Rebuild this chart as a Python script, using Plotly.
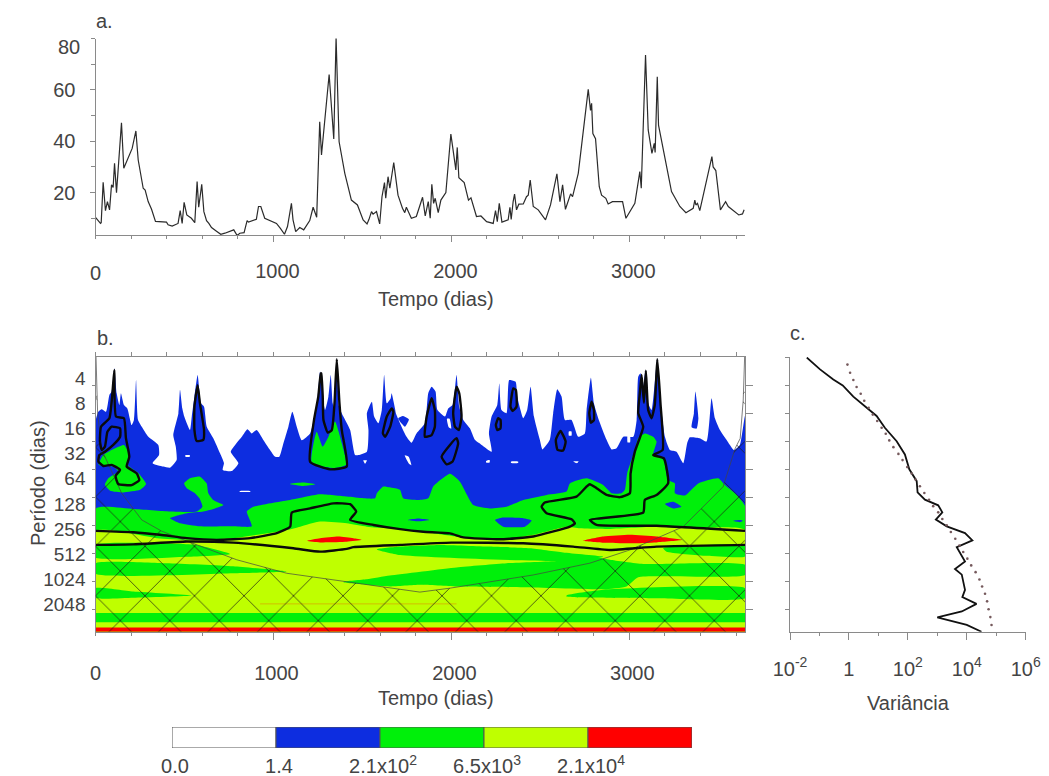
import plotly.graph_objects as go

W, H = 1049, 776
FONT = "Liberation Sans"
TXT = "#444444"
AX = "#8a8a8a"
BLUE, GREEN, YELLOW, RED = "#0d2de0", "#00f00a", "#bfff00", "#ff0000"

# ---- panel a: time series (day, value)
series_days = [0,11,28,32,43,56,67,79,90,99,107,118,146,159,206,227,240,268,279,296,315,337,399,408,431,464,476,487,498,513,539,558,571,580,597,609,624,637,652,680,704,727,764,777,796,811,835,852,860,904,916,929,951,1017,1039,1062,1079,1101,1110,1125,1148,1170,1204,1223,1243,1260,1270,1313,1339,1352,1369,1401,1438,1472,1504,1526,1537,1551,1560,1579,1597,1610,1624,1631,1644,1654,1676,1700,1725,1738,1747,1775,1803,1823,1838,1853,1870,1881,1890,1900,1909,1926,1941,1969,1997,2020,2025,2033,2042,2072,2096,2110,2141,2166,2198,2235,2248,2258,2269,2284,2319,2329,2336,2347,2355,2366,2379,2404,2422,2432,2443,2460,2488,2529,2557,2593,2610,2625,2641,2670,2681,2713,2769,2782,2788,2795,2810,2831,2844,2868,2881,2905,2962,2981,3031,3059,3067,3091,3106,3127,3140,3145,3157,3164,3190,3237,3284,3318,3359,3368,3374,3383,3396,3464,3471,3486,3512,3541,3556,3615,3636,3645]
series_vals = [10.4,9.4,8,8.3,24,13,16.5,13.3,23,22,31.4,20,47.2,29.5,37.2,44,32.7,21.7,21,16.5,13.5,8.8,8.5,7.5,7,8,13,8,16.2,11.3,10,8.3,24.3,14.3,23.2,12.6,9.1,8,6.4,5,3.8,4.2,5.2,5.5,3.3,4.2,4.4,9.1,8.5,9.6,14.6,14.6,10,8,6.1,3.8,6.8,15.8,9.4,4.8,6.4,5.5,9.1,14.3,10.4,47.6,34.7,66,40.9,80.4,39.8,27.5,17.1,15.2,9.4,7.8,9.6,12.6,11.6,12.6,7.8,18.4,23.9,17.8,26.2,21.7,31.7,19,13.9,12.2,14.3,10,10.7,15.2,18.2,10.9,16.5,10,23.2,15.8,17.8,12.2,17.1,20,42.8,31.4,28.8,37.6,25.8,23.9,17.1,18,10.7,10.9,8.7,8,13,8.7,15.8,8.5,9.4,14.3,9.6,16.5,19.4,13.3,15.5,15.6,18.4,19,24.9,14.6,13.3,9.4,15.2,27.3,16.5,23,13.5,19.5,18.4,27.5,60.2,52,54.8,43,41,22.3,19,17.8,15.6,16.5,16.5,10,15.8,28.2,21.7,73.6,44.4,35.3,39.2,35.6,65.1,46.3,37.2,20.4,14.6,12.2,13.9,17.1,15.2,15.8,13,34,30,28.6,13.3,16.5,14.6,11.3,11.7,13.3]

# ---- panel b: wavelet power regions as (day, log2 period)
blue_region = [(0,3.3),(16,2.95),(35,2.86),(59,2.95),(78,2.35),(91,2.23),(106,1.4),(119,2.29),(134,2.71),(143,2.29),(160,2.71),(179,2.83),(203,3.42),(216,3.24),(228,1.82),(239,3.24),(260,3.48),(297,3.84),(353,4.13),(357,4.49),(321,4.78),(381,4.9),(419,4.94),(456,4.67),(451,4.19),(437,3.78),(466,3.0),(475,2.17),(488,2.83),(499,3.12),(531,3.6),(541,3.12),(556,2.41),(574,1.64),(593,2.65),(610,2.77),(625,3.48),(662,3.89),(700,4.43),(722,4.78),(715,5.02),(766,5.06),(803,4.78),(760,4.37),(785,4.13),(822,3.84),(854,3.57),(878,3.72),(906,3.6),(944,3.96),(981,4.31),(1009,4.55),(1033,4.55),(1056,4.07),(1084,3.48),(1106,2.95),(1131,3.48),(1159,3.96),(1206,3.72),(1234,3.0),(1249,2.41),(1262,1.52),(1277,2.41),(1290,2.89),(1309,2.41),(1322,1.64),(1333,2.65),(1343,2.89),(1356,1.05),(1369,2.77),(1393,3.12),(1431,3.6),(1459,4.49),(1478,4.49),(1525,4.37),(1534,3.6),(1525,3.0),(1553,2.59),(1566,3.12),(1590,3.36),(1609,2.89),(1622,1.64),(1637,2.65),(1659,2.47),(1664,2.29),(1683,2.83),(1688,3.0),(1720,3.48),(1748,3.84),(1776,4.05),(1804,3.72),(1851,3.36),(1870,2.29),(1889,2.06),(1911,2.23),(1921,2.88),(1964,3.12),(1982,2.83),(2007,2.71),(2029,1.64),(2044,2.77),(2067,3.24),(2104,3.54),(2132,3.95),(2170,4.13),(2226,4.37),(2211,3.72),(2226,3.12),(2258,2.71),(2269,1.94),(2282,2.89),(2310,3.0),(2325,1.82),(2361,1.88),(2370,2.41),(2404,3.18),(2426,2.89),(2445,2.06),(2464,3.12),(2497,3.95),(2512,4.29),(2553,3.95),(2572,3.0),(2595,2.15),(2619,2.41),(2638,3.24),(2675,3.24),(2713,3.84),(2750,3.72),(2760,2.89),(2784,1.74),(2801,2.65),(2825,3.18),(2872,3.95),(2900,4.29),(2928,4.25),(2966,3.84),(3022,3.84),(3041,3.24),(3050,1.7),(3063,1.58),(3074,2.29),(3091,1.46),(3106,2.65),(3125,2.89),(3157,1.05),(3172,2.41),(3200,3.84),(3228,4.31),(3265,4.37),(3303,4.78),(3325,4.07),(3340,3.86),(3396,3.89),(3434,4.01),(3462,2.47),(3481,3.18),(3509,3.6),(3546,3.95),(3587,4.31),(3621,4.13),(3650,3.1),(3650,10.78),(0,10.78)]
blue_islands = [
    [(1701,3.18),(1729,3.1),(1761,3.22),(1739,3.48),(1711,3.3)],
    [(3350,3.5),(3363,3.0),(3371,2.23),(3388,3.18),(3378,3.55)],
]
white_specks = [
    [(1738,4.5),(1760,4.55),(1775,4.85),(1762,4.8)],
    [(1975,3.2),(1990,3.2),(1999,3.55),(1985,3.5)],
    [(2990,3.8),(3004,3.8),(3004,4.04),(2990,4.04)],
    [(2195,4.7),(2215,4.67),(2215,4.76),(2195,4.76)],
    [(2335,4.72),(2375,4.72),(2375,4.77),(2335,4.77)],
    [(2685,4.72),(2715,4.72),(2705,4.78)],
    [(2660,3.65),(2675,3.65),(2675,3.8),(2660,3.8)],
    [(505,4.5),(530,4.5),(530,4.55),(505,4.55)],
    [(810,5.77),(870,5.77),(870,5.8),(810,5.8)],
    [(1505,4.68),(1525,4.68),(1515,4.8)],
]
green_region = [(0,6.39),(213,6.41),(419,6.5),(569,6.5),(601,6.33),(584,6.03),(559,5.85),(513,5.67),(498,5.5),(531,5.32),(587,5.26),(625,5.5),(634,5.85),(662,6.09),(719,6.27),(672,6.39),(606,6.5),(513,6.56),(419,6.74),(475,6.92),(587,7.03),(775,7.03),(878,7.03),(859,6.68),(850,6.5),(887,6.33),(962,6.23),(1094,6.09),(1187,5.97),(1262,5.89),(1412,5.97),(1506,6.03),(1571,6.03),(1581,5.85),(1618,5.61),(1654,5.64),(1711,5.73),(1729,6.03),(1814,6.09),(1870,6.03),(1898,5.61),(1992,5.16),(2048,5.44),(2123,6.27),(2216,6.39),(2310,6.33),(2404,6.09),(2535,5.91),(2647,5.79),(2666,5.5),(2760,5.32),(2853,5.56),(2900,5.85),(2956,5.85),(2975,5.73),(2988,5.14),(3031,4.31),(3050,3.89),(3087,3.72),(3134,3.84),(3153,4.01),(3134,4.49),(3190,4.61),(3218,5.38),(3256,5.5),(3256,5.85),(3312,5.93),(3387,5.5),(3499,5.32),(3537,5.56),(3602,5.91),(3650,6.3),(3650,10.78),(0,10.78)]
green_islands = [
    [(18,4.84),(44,4.49),(110,4.25),(160,4.13),(190,4.49),(179,4.84),(241,5.14),(284,5.52),(250,5.73),(156,5.82),(82,5.76),(53,5.55),(72,5.32),(128,5.08),(100,4.9),(53,4.88)],
    [(1215,4.76),(1243,3.66),(1277,4.19),(1309,3.84),(1346,3.3),(1384,4.07),(1408,4.84),(1337,4.96)],
    [(1093,5.52),(1168,5.47),(1234,5.53),(1168,5.59)],
]
blue_holes = [
    [(2245,6.8),(2282,6.72),(2404,6.74),(2451,6.82),(2413,7.04),(2291,7.04)],
    [(3200,6.23),(3247,6.15),(3293,6.33),(3247,6.39)],
    [(1757,6.8),(1814,6.75),(1875,6.8),(1814,6.85)],
    [(3580,6.83),(3620,6.8),(3640,6.83),(3620,6.88)],
]
yellow_region = [(0,7.2),(345,7.45),(512,7.51),(775,7.45),(1075,7.16),(1150,7.04),(1262,6.86),(1412,6.92),(1525,7.04),(1654,7.1),(1842,7.22),(2029,7.39),(2273,7.51),(2460,7.33),(2647,7.04),(2722,7.1),(2872,7.12),(3153,7.04),(3340,7.1),(3650,7.16),(3650,10.78),(0,10.78)]
green_bands = [
    [(0,7.69),(344,7.63),(569,7.69),(756,8.01),(513,8.11),(0,8.14)],
    [(1581,7.85),(1712,7.75),(1935,7.69),(2216,7.75),(2441,7.81),(2628,7.96),(2853,8.11),(2600,8.26),(1712,8.05)],
    [(0,8.34),(400,8.34),(775,8.45),(1075,8.64),(775,8.7),(0,8.72)],
    [(0,9.23),(213,9.35),(541,9.49),(213,9.57),(0,9.57)],
    [(1393,9.0),(1525,8.91),(1654,8.78),(2029,8.49),(2310,8.34),(2600,8.26),(2816,8.13),(2891,8.22),(3078,8.37),(3650,8.4),(3650,8.76),(3050,8.84),(2984,9.17),(2853,9.27),(2404,9.2),(2029,9.17),(1823,9.11),(1654,9.17),(1525,9.11),(1393,9.02)],
    [(3190,7.81),(3650,7.73),(3650,8.1),(3434,8.08),(3209,7.93)],
    [(2647,9.49),(2853,9.29),(3650,9.23),(3650,9.59),(3153,9.59),(2647,9.53)],
]
green_strip = [(0,10.11),(3650,10.11),(3650,10.44),(0,10.44)]
red_regions = [
    [(1190,7.54),(1262,7.45),(1365,7.39),(1449,7.45),(1496,7.51),(1412,7.58),(1262,7.6)],
    [(2741,7.54),(2853,7.39),(3003,7.33),(3153,7.39),(3299,7.51),(3153,7.6),(3003,7.63),(2853,7.61)],
]
red_strip = [(0,10.63),(3650,10.63),(3650,10.78),(0,10.78)]
faint_line = [(925,9.79),(2029,9.79)]
contour_lower = [(0,7.69),(213,7.67),(513,7.57),(775,7.61),(1112,7.81),(1262,7.93),(1412,7.83),(1450,7.77),(1712,7.69),(2000,7.61),(2404,7.63),(2684,7.75),(2891,7.87),(3153,7.75),(3650,7.69)]
contour_upper = [(0,7.19),(213,7.24),(363,7.33),(513,7.45),(681,7.51),(869,7.45),(1019,7.27),(1094,7.04),(1103,6.54),(1206,6.39),(1337,6.21),(1431,6.24),(1465,6.5),(1431,6.8),(1562,6.98),(1712,7.13),(1842,7.22),(1992,7.28),(2067,7.42),(2273,7.49),(2460,7.39),(2666,7.04),(2694,6.92),(2675,6.78),(2535,6.56),(2507,6.33),(2525,6.18),(2703,5.97),(2760,5.61),(2778,5.53),(2816,5.67),(2872,5.91),(2947,5.99),(3003,5.85),(3007,5.14),(3031,4.37),(3078,3.48),(3050,3.0),(3059,2.29),(3069,1.64),(3082,2.63),(3093,1.49),(3106,2.89),(3125,3.18),(3143,2.71),(3157,1.08),(3175,2.65),(3187,4.31),(3134,4.49),(3194,4.61),(3218,5.5),(3153,5.91),(3087,6.09),(3078,6.54),(2778,6.8),(2816,6.98),(3153,7.01),(3650,7.19)]
contour_loops = [
    [(106,1.46),(115,3.12),(160,3.18),(171,3.89),(190,4.55),(175,4.9),(231,5.14),(246,5.38),(203,5.56),(128,5.52),(113,5.23),(138,5.02),(91,4.84),(44,4.88),(16,4.72),(22,4.49),(53,4.37),(100,4.13),(138,3.84),(138,3.54),(91,3.48),(67,3.66),(53,4.19),(35,4.31),(25,4.01),(31,3.48),(78,3.18),(95,2.29)],
    [(574,2.0),(556,2.77),(556,3.6),(569,3.99),(606,3.95),(610,3.6),(587,2.65)],
    [(1266,1.58),(1252,2.41),(1228,3.24),(1206,4.73),(1318,5.0),(1412,4.9),(1384,3.6),(1371,2.65),(1356,1.08),(1343,2.65),(1328,3.6),(1305,3.69),(1281,3.24),(1277,2.41),(1269,1.58)],
    [(1665,2.83),(1637,3.12),(1615,3.72),(1628,3.84),(1656,3.48),(1674,2.95)],
    [(1889,2.47),(1861,3.12),(1851,3.84),(1889,3.78),(1907,3.48),(1907,2.89)],
    [(2029,2.06),(2010,3.0),(2020,3.48),(2042,3.6),(2057,3.12),(2044,2.29)],
    [(2029,3.89),(1992,4.13),(1945,4.55),(1973,4.82),(2007,4.72),(2038,4.07)],
    [(2263,3.18),(2250,3.42),(2258,3.6),(2276,3.54),(2276,3.24)],
    [(2348,2.12),(2332,2.77),(2344,2.92),(2366,2.77),(2362,2.17)],
    [(2613,3.63),(2587,3.95),(2597,4.31),(2628,4.33),(2642,4.01)],
    [(2788,2.59),(2775,3.0),(2784,3.34),(2801,3.24),(2801,2.89)],
]
cone_of_influence = [(3,1.0),(12,3.0),(35,4.3),(70,4.77),(147,5.85),(260,6.8),(372,7.2),(512,7.55),(794,8.22),(1075,8.7),(1337,8.94),(1712,9.29),(1823,9.37),(1992,9.23),(2460,8.76),(2778,8.34),(3003,7.87),(3303,7.04),(3527,5.62),(3595,4.25),(3623,3.9),(3640,2.53),(3648,1.0)]
period_ticks = [2,3,4,5,6,7,8,9,10]
period_labels = ["4","8","16","32","64","128","256","512","1024","2048"]
period_label_pos = [2,3,4,5,6,7,8,9,10,11]

# ---- panel c: global spectrum (log10 variance, log2 period)
global_logvar = [-1.43,-0.98,-0.53,-0.21,0.15,0.55,0.94,1.22,1.62,1.9,2.05,2.3,2.33,2.58,3.03,3.17,2.95,3.32,3.94,4.19,3.66,3.94,3.6,3.83,3.94,3.85,4.33,3.83,3.0,4.0,4.5]
global_period = [1.02,1.44,1.8,2.01,2.41,2.77,3.1,3.52,4.0,4.47,5.0,5.42,5.82,6.08,6.28,6.53,6.79,7.03,7.27,7.53,7.77,8.28,8.55,8.75,9.29,9.55,9.79,10.06,10.27,10.54,10.78]
signif_logvar = [-0.05,0.04,0.15,0.26,0.40,0.52,0.67,0.81,0.96,1.11,1.25,1.37,1.51,1.68,1.82,1.98,2.13,2.26,2.41,2.56,2.72,2.86,3.03,3.17,3.32,3.46,3.61,3.75,3.88,4.02,4.15,4.30,4.43,4.52,4.62,4.69,4.74,4.80,4.84]
signif_period = [1.27,1.56,1.82,2.07,2.31,2.56,2.81,3.05,3.28,3.52,3.73,3.97,4.21,4.45,4.67,4.92,5.15,5.36,5.6,5.84,6.08,6.31,6.53,6.77,6.99,7.23,7.47,7.71,7.94,8.18,8.42,8.66,8.92,9.17,9.43,9.70,9.98,10.26,10.54]

# ---- colour scale
level_labels = ["0.0","1.4","2.1x10<sup>2</sup>","6.5x10<sup>3</sup>","2.1x10<sup>4</sup>"]
level_colors = ["#ffffff", BLUE, GREEN, YELLOW, RED]

labelled_days = [1000,2000,3000]
minor_days = [d for d in range(200,3650,200) if d % 1000]


def dx(a, b): return [a / W, b / W]
def dy(top, bot): return [1 - bot / H, 1 - top / H]

def polys(rings):
    xs, ys = [], []
    for r in rings:
        xs += [p[0] for p in r] + [r[0][0], None]
        ys += [p[1] for p in r] + [r[0][1], None]
    return xs, ys

fig = go.Figure()

def area(rings, color, smooth=True):
    xs, ys = polys(rings)
    line = dict(width=0, shape="spline", smoothing=0.5) if smooth else dict(width=0)
    fig.add_trace(go.Scatter(x=xs, y=ys, xaxis="x2", yaxis="y2", mode="lines", fill="toself",
                             fillcolor=color, line=line, hoverinfo="skip", showlegend=False))

def stroke(pts, width=2.4, color="#0a0a0a", closed=False, smooth=True):
    pts = pts + [pts[0]] if closed else pts
    line = dict(color=color, width=width)
    if smooth:
        line.update(shape="spline", smoothing=0.45)
    fig.add_trace(go.Scatter(x=[p[0] for p in pts], y=[p[1] for p in pts], xaxis="x2", yaxis="y2",
                             mode="lines", line=line, hoverinfo="skip", showlegend=False))

fig.add_trace(go.Scatter(x=series_days, y=series_vals, xaxis="x", yaxis="y", mode="lines",
                         line=dict(color="#2b2b2b", width=1.2), cliponaxis=False, showlegend=False))

area([blue_region] + blue_islands, BLUE)
area(white_specks, "#ffffff")
area([green_region] + green_islands, GREEN)
area(blue_holes, BLUE)
area([yellow_region], YELLOW)
area(green_bands, GREEN)
area([green_strip], GREEN, smooth=False)
area(red_regions, RED)
area([red_strip], RED, smooth=False)
stroke(faint_line, width=0.7, color="#d8a000", smooth=False)
stroke(cone_of_influence, width=0.7, color="#444444", smooth=False)
stroke(contour_lower)
stroke(contour_upper)
for loop in contour_loops:
    stroke(loop, closed=True)

# the hatched area sits on its own hidden axes so that the pattern lattice lines up with the reference
hatch = cone_of_influence + [(3650, 10.78), (0, 10.78)]
fig.add_trace(go.Scatter(x=[p[0] for p in hatch], y=[p[1] for p in hatch], xaxis="x7", yaxis="y7",
                         mode="lines", fill="toself", fillcolor="rgba(0,0,0,0)", line=dict(width=0),
                         fillpattern=dict(shape="x", size=35, solidity=0.04, fgcolor="#1c1c14", fgopacity=1,
                                          bgcolor="rgba(0,0,0,0)"),
                         hoverinfo="skip", showlegend=False))

fig.add_trace(go.Scatter(x=[10**v for v in global_logvar], y=global_period, xaxis="x3", yaxis="y3", mode="lines",
                         line=dict(color="#111111", width=1.8), cliponaxis=False, showlegend=False))
fig.add_trace(go.Scatter(x=[10**v for v in signif_logvar], y=signif_period, xaxis="x3", yaxis="y3", mode="markers",
                         marker=dict(color="#75595c", size=2.6), cliponaxis=False, showlegend=False))

fig.add_trace(go.Bar(x=[i + 0.5 for i in range(5)], y=[1] * 5, width=[1] * 5, xaxis="x4", yaxis="y4",
                     marker=dict(color=level_colors, line=dict(color="#555555", width=1)), hoverinfo="skip", showlegend=False))

# invisible traces so the tick-only and label-only overlay axes get drawn
fig.add_trace(go.Scatter(x=[None], y=[None], xaxis="x2", yaxis="y5", showlegend=False))
fig.add_trace(go.Scatter(x=[None], y=[None], xaxis="x6", yaxis="y6", showlegend=False))

tf = dict(family=FONT, size=20, color=TXT)
common = dict(showgrid=False, zeroline=False, linecolor=AX, linewidth=1, tickcolor=AX, tickfont=tf, showline=True, automargin=False)
minor_x = dict(tickmode="array", tickvals=[0] + minor_days, ticks="outside", ticklen=3, tickcolor=AX, showgrid=False)
XA = dx(95.5, 745)
YB = dy(357, 631.7)

fig.update_layout(
    width=W, height=H, margin=dict(l=0, r=0, t=0, b=0, pad=0, autoexpand=False), paper_bgcolor="white", plot_bgcolor="rgba(0,0,0,0)",
    showlegend=False, barmode="overlay",
    xaxis=dict(common, domain=XA, range=[0, 3650], anchor="y", tickmode="array", tickvals=labelled_days,
               ticks="outside", ticklen=6, ticklabelstandoff=12, ticklabelshift=4, minor=minor_x),
    yaxis=dict(common, domain=dy(38.5, 235), range=[3.5, 80], anchor="x", tickmode="array",
               tickvals=[20, 40, 60], ticks="outside", ticklen=5, ticklabelstandoff=10,
               minor=dict(tickmode="array", tickvals=[10, 30, 50, 70, 80], ticks="outside", ticklen=4, tickcolor=AX, showgrid=False)),
    xaxis2=dict(common, domain=XA, range=[0, 3650], anchor="y2", tickmode="array", tickvals=labelled_days,
                ticks="outside", ticklen=7, ticklabelstandoff=16, ticklabelshift=3, minor=minor_x),
    yaxis2=dict(common, domain=YB, range=[10.78, 1], anchor="x2", tickmode="array", tickvals=period_ticks,
                showticklabels=False, ticks="outside", ticklen=3),
    yaxis5=dict(showgrid=False, zeroline=False, showline=False, domain=YB, range=[12.07, 1.167], anchor="x2", automargin=False,
                overlaying="y2", side="left", tickmode="array", tickvals=period_label_pos, ticktext=period_labels,
                ticks="", tickfont=dict(family=FONT, size=19, color=TXT), ticklabelstandoff=9),
    xaxis6=dict(common, domain=XA, range=[0, 3650], anchor="y6", overlaying="x2", side="top", tickmode="array",
                tickvals=[0] + labelled_days + minor_days, showticklabels=False, ticks="outside", ticklen=4),
    yaxis6=dict(common, domain=YB, range=[10.78, 1], anchor="x6", overlaying="y2", side="right", tickmode="array",
                tickvals=period_ticks, showticklabels=False, ticks="outside", ticklen=7),
    xaxis7=dict(domain=XA, range=[0, 3650], anchor="y7", visible=False, automargin=False),
    yaxis7=dict(domain=dy(348.3, 631.7), range=[10.78, 0.69], anchor="x7", visible=False, automargin=False),
    xaxis3=dict(common, domain=dx(790, 1025.7), type="log", range=[-2, 6], anchor="y3", tickmode="array",
                tickvals=[0.01, 1, 100, 1e4, 1e6], ticktext=["10<sup>-2</sup>", "1", "10<sup>2</sup>", "10<sup>4</sup>", "10<sup>6</sup>"],
                ticks="outside", ticklen=7, ticklabelstandoff=12,
                minor=dict(tickmode="array", tickvals=[0.1, 10, 1000, 1e5], ticks="outside", ticklen=3, tickcolor=AX, showgrid=False)),
    yaxis3=dict(common, domain=YB, range=[10.78, 1], anchor="x3", tickmode="array", tickvals=[1] + period_ticks,
                showticklabels=False, ticks="outside", ticklen=4),
    xaxis4=dict(domain=dx(172, 692), range=[0, 5], anchor="y4", showgrid=False, zeroline=False, showline=False, automargin=False,
                tickmode="array", tickvals=[0, 1, 2, 3, 4], ticktext=level_labels, ticks="", tickfont=tf,
                ticklabelstandoff=4, ticklabelshift=3),
    yaxis4=dict(domain=dy(727, 748), range=[0, 1], anchor="x4", showgrid=False, zeroline=False, showline=False, automargin=False,
                showticklabels=False, ticks=""),
)

def note(text, x, y, size=20):
    fig.add_annotation(text=text, x=x / W, y=1 - y / H, xref="paper", yref="paper", showarrow=False,
                       xanchor="center", yanchor="middle", font=dict(family=FONT, size=size, color=TXT))

note("a.", 104, 21)
note("b.", 105, 338)
note("c.", 798, 333)
note("80", 69, 47)
note("0", 95, 273)
note("0", 95, 673)
note("Tempo (dias)", 436, 299)
note("Tempo (dias)", 436, 698)
note("Variância", 908, 703)
fig.add_annotation(text="Período (dias)", x=25 / W, y=1 - 483 / H, xref="paper", yref="paper", showarrow=False,
                   textangle=-90, font=dict(family=FONT, size=20, color=TXT))

fig.write_html("out.html", config=dict(displayModeBar=False),
               post_script="document.documentElement.style.margin='0';document.body.style.margin='0';document.body.style.overflow='hidden';")
